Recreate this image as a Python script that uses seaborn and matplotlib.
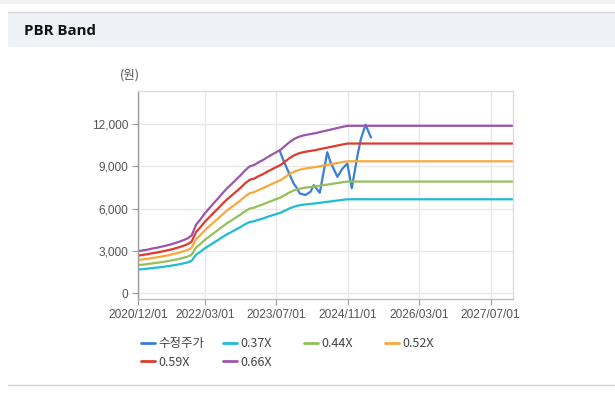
import matplotlib
matplotlib.use("Agg")
import matplotlib.pyplot as plt
import matplotlib.dates as mdates
from matplotlib.ticker import FuncFormatter
from matplotlib.patches import Rectangle
from matplotlib.lines import Line2D
import seaborn as sns
import pandas as pd
import numpy as np

# ---------------- data ----------------
band_dates = pd.date_range("2020-12-01", "2024-11-01", freq="MS").tolist() + [pd.Timestamp("2027-12-01")]
bps = [4500, 4580, 4660, 4760, 4850, 4950, 5060, 5180, 5320, 5480, 5650, 5850,
       6170, 7350, 7950, 8560, 9120, 9660, 10200, 10750, 11290, 11740, 12210, 12680,
       13200, 13620, 13780, 14050, 14300, 14600, 14880, 15150, 15420, 15850, 16250, 16580,
       16800, 16950, 17050, 17130, 17220, 17350, 17450, 17560, 17680, 17790, 17900, 17990,
       17990]
multiples = [0.37, 0.44, 0.52, 0.59, 0.66]
band_labels = ["0.37X", "0.44X", "0.52X", "0.59X", "0.66X"]

price_dates = ["2023-07-24", "2023-08-20", "2023-09-24", "2023-10-28", "2023-11-21",
               "2023-12-08", "2024-01-16", "2024-02-20", "2024-03-13", "2024-04-23",
               "2024-06-13", "2024-07-05", "2024-08-21", "2024-09-25", "2024-10-28",
               "2024-11-27", "2025-01-05", "2025-01-28", "2025-03-01", "2025-04-07"]
price = [10120, 9400, 8560, 7770, 7420, 7070, 6960, 7190, 7660, 7120,
         10000, 9300, 8250, 8840, 9190, 7440, 9770, 10930, 11950, 11040]
price_label = "수정주가"

xticks = ["2020-12-01", "2022-03-01", "2023-07-01", "2024-11-01", "2026-03-01", "2027-07-01"]
yticks = [0, 3000, 6000, 9000, 12000]

colors = {"수정주가": "#3a7fd8", "0.37X": "#1fbcd2", "0.44X": "#93c05a",
          "0.52X": "#f9a83a", "0.59X": "#e03a2e", "0.66X": "#9b55ac"}

# ---------------- frame ----------------
rows = []
for m, lab in zip(multiples, band_labels):
    for d, b in zip(band_dates, bps):
        rows.append({"date": d, "value": b * m, "series": lab})
for d, p in zip(price_dates, price):
    rows.append({"date": pd.Timestamp(d), "value": p, "series": price_label})
df = pd.DataFrame(rows)

sns.set_theme(style="white")
plt.rcParams["font.family"] = ["Noto Sans CJK KR", "DejaVu Sans"]

fig = plt.figure(figsize=(6.15, 3.95), dpi=100)
fig.patch.set_facecolor("white")

# header band
fig.patches.append(Rectangle((8/615, 1-47/395), 1, 35/395, transform=fig.transFigure,
                             facecolor="#eef2f7", edgecolor="none", zorder=0))
fig.lines.append(Line2D([8/615, 1], [1-12/395, 1-12/395], transform=fig.transFigure,
                        color="#d4d6da", lw=1))
fig.lines.append(Line2D([8/615, 1], [1-385/395, 1-385/395], transform=fig.transFigure,
                        color="#cfd1d4", lw=1))
fig.lines.append(Line2D([0, 1], [1-2/395, 1-2/395], transform=fig.transFigure,
                        color="#f2f2f2", lw=3))
fig.text(24/615, 1-31/395, "PBR Band", fontsize=10.8, fontweight="bold",
         va="center", ha="left", color="#111111", family=["Open Sans", "DejaVu Sans"])

ax = fig.add_axes([138/615, 1-299/395, (513-138)/615, (299-91)/395])
order = [price_label] + band_labels
sns.lineplot(data=df, x="date", y="value", hue="series", hue_order=order,
             palette=colors, linewidth=1.6, ax=ax, legend=True, estimator=None,
             sort=True)

ax.set_xlim(pd.Timestamp("2020-12-01"), pd.Timestamp("2027-12-01"))
ax.set_ylim(-426, 14345)
ax.set_xticks([pd.Timestamp(t) for t in xticks])
ax.xaxis.set_major_formatter(mdates.DateFormatter("%Y/%m/%d"))
ax.set_yticks(yticks)
ax.yaxis.set_major_formatter(FuncFormatter(lambda v, p: f"{int(v):,}"))
ax.set_xlabel("")
ax.set_ylabel("")
ax.grid(True, color="#e8e8e8", lw=1)
for s in ["top", "right"]:
    ax.spines[s].set_color("#dddddd")
ax.spines["left"].set_color("#999999")
ax.spines["bottom"].set_color("#bbbbbb")
for s in ax.spines.values():
    s.set_linewidth(1)
ax.tick_params(axis="both", which="major", length=4, width=0.8, color="#999999",
               labelsize=8.6, labelcolor="#555555", pad=3, direction="out")
ax.tick_params(axis="x", bottom=True)
ax.tick_params(axis="y", left=True)
for lab in ax.get_xticklabels() + ax.get_yticklabels():
    lab.set_family(["Liberation Sans", "DejaVu Sans"])

fig.text(130/615, 1-75/395, "(원)", fontsize=9, color="#555555", ha="center", va="center")

handles, labels = ax.get_legend_handles_labels()
ax.get_legend().remove()
hmap = dict(zip(labels, handles))
leg_cols = [([price_label, "0.59X"], 141), (["0.37X", "0.66X"], 223),
            (["0.44X"], 304), (["0.52X"], 385)]
for labs, x0 in leg_cols:
    leg = fig.legend([hmap[l] for l in labs], labs, loc="upper left",
                     bbox_to_anchor=(x0/615, 1-337/395), frameon=False, fontsize=9,
                     handlelength=1.15, handletextpad=0.25, labelspacing=0.45,
                     borderaxespad=0, borderpad=0)
    for t in leg.get_texts():
        t.set_color("#444444")
    for h in leg.legend_handles:
        h.set_linewidth(2)

fig.savefig("out.png", dpi=100)
